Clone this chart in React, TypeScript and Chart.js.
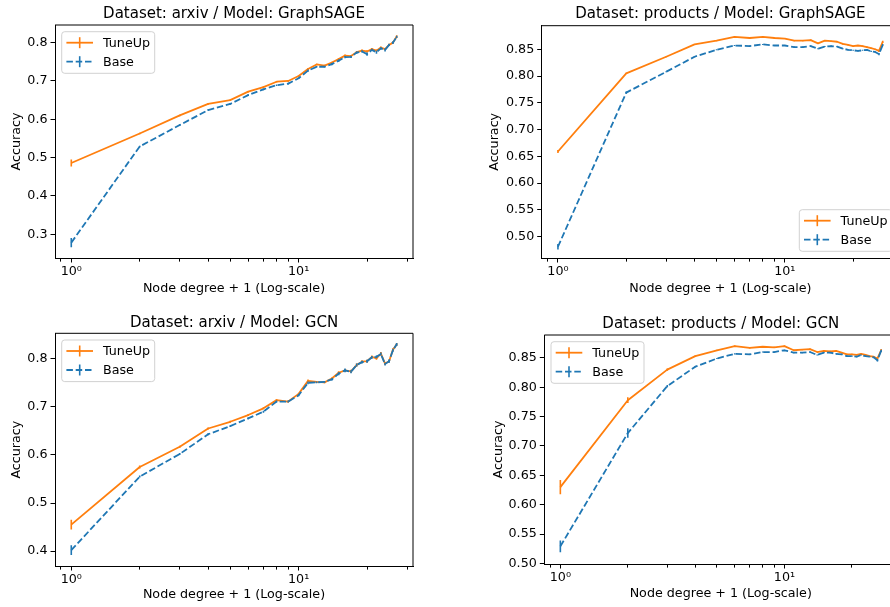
import React, { useEffect, useRef } from "react";
import { Chart, registerables } from "chart.js";

Chart.register(...registerables);

const FONT = "'DejaVu Sans', 'Liberation Sans', sans-serif";
const ORANGE = "#ff7f0e";
const BLUE = "#1f77b4";
const BASE_DASH = [6.5, 2.8];

// ---------- data ----------
const DEGREE = [1, 2, 3, 4, 5, 6, 7, 8, 9, 10, 11, 12, 13, 14, 15, 16, 17, 18, 19, 20, 21, 22, 23, 24, 25, 26, 27];
const LEGEND_LABELS = ["TuneUp", "Base"];
const X_TICKS = [0.9, 1, 2, 3, 4, 5, 6, 7, 8, 9, 10, 20, 30];
const X_TICK_LABELS: Record<number, string> = { 1: "10\u2070", 10: "10\u00b9" };
const X_MIN = 0.848;
const X_MAX = 31.85;

const ARXIV_SAGE_Y_TICKS = [0.3, 0.4, 0.5, 0.6, 0.7, 0.8];
const ARXIV_GCN_Y_TICKS = [0.4, 0.5, 0.6, 0.7, 0.8];
const PRODUCTS_Y_TICKS = [0.5, 0.55, 0.6, 0.65, 0.7, 0.75, 0.8, 0.85];

const ARXIV_SAGE_TUNEUP = [0.486, 0.563, 0.610, 0.640, 0.650, 0.672, 0.684, 0.698, 0.700, 0.713, 0.731, 0.743, 0.740, 0.748, 0.757, 0.766, 0.765, 0.775, 0.779, 0.777, 0.783, 0.779, 0.787, 0.783, 0.794, 0.800, 0.816];
const ARXIV_SAGE_BASE = [0.278, 0.529, 0.585, 0.624, 0.640, 0.663, 0.678, 0.689, 0.693, 0.707, 0.727, 0.737, 0.737, 0.744, 0.753, 0.762, 0.763, 0.774, 0.777, 0.770, 0.781, 0.775, 0.785, 0.781, 0.794, 0.800, 0.815];
const ARXIV_SAGE_TUNEUP_ERR = [0.009, 0.002, 0.002, 0.002, 0.002, 0.002, 0.002, 0.002, 0.002, 0.002, 0.003, 0.002, 0.002, 0.002, 0.003, 0.003, 0.003, 0.003, 0.003, 0.003, 0.003, 0.003, 0.003, 0.003, 0.003, 0.003, 0.003];
const ARXIV_SAGE_BASE_ERR = [0.012, 0.002, 0.002, 0.002, 0.002, 0.002, 0.002, 0.002, 0.002, 0.002, 0.003, 0.002, 0.002, 0.003, 0.003, 0.003, 0.003, 0.003, 0.003, 0.004, 0.003, 0.004, 0.003, 0.004, 0.003, 0.003, 0.003];

const PRODUCTS_SAGE_TUNEUP = [0.659, 0.805, 0.836, 0.859, 0.866, 0.873, 0.871, 0.873, 0.871, 0.870, 0.866, 0.866, 0.867, 0.861, 0.866, 0.865, 0.864, 0.860, 0.858, 0.856, 0.857, 0.856, 0.854, 0.852, 0.850, 0.847, 0.864];
const PRODUCTS_SAGE_BASE = [0.481, 0.769, 0.808, 0.836, 0.849, 0.857, 0.856, 0.859, 0.857, 0.857, 0.854, 0.854, 0.856, 0.851, 0.855, 0.856, 0.855, 0.851, 0.849, 0.848, 0.847, 0.848, 0.849, 0.846, 0.845, 0.841, 0.858];
const PRODUCTS_SAGE_TUNEUP_ERR = [0.003, 0.001, 0.001, 0.001, 0.001, 0.001, 0.001, 0.001, 0.001, 0.001, 0.001, 0.001, 0.001, 0.001, 0.001, 0.001, 0.001, 0.001, 0.001, 0.001, 0.001, 0.001, 0.001, 0.001, 0.001, 0.002, 0.002];
const PRODUCTS_SAGE_BASE_ERR = [0.005, 0.002, 0.001, 0.001, 0.001, 0.001, 0.001, 0.001, 0.001, 0.001, 0.001, 0.001, 0.001, 0.001, 0.001, 0.001, 0.001, 0.001, 0.001, 0.001, 0.001, 0.001, 0.001, 0.001, 0.001, 0.002, 0.002];

const ARXIV_GCN_TUNEUP = [0.455, 0.575, 0.617, 0.655, 0.669, 0.683, 0.697, 0.714, 0.711, 0.727, 0.754, 0.752, 0.751, 0.759, 0.771, 0.776, 0.774, 0.787, 0.794, 0.795, 0.804, 0.801, 0.811, 0.790, 0.795, 0.819, 0.830];
const ARXIV_GCN_BASE = [0.402, 0.555, 0.602, 0.643, 0.660, 0.676, 0.690, 0.711, 0.711, 0.724, 0.750, 0.751, 0.752, 0.757, 0.769, 0.776, 0.773, 0.787, 0.793, 0.795, 0.803, 0.804, 0.810, 0.789, 0.795, 0.818, 0.830];
const ARXIV_GCN_TUNEUP_ERR = [0.010, 0.003, 0.002, 0.002, 0.002, 0.002, 0.002, 0.002, 0.002, 0.002, 0.003, 0.002, 0.002, 0.002, 0.003, 0.003, 0.003, 0.003, 0.003, 0.003, 0.003, 0.003, 0.003, 0.003, 0.003, 0.003, 0.003];
const ARXIV_GCN_BASE_ERR = [0.010, 0.002, 0.002, 0.002, 0.002, 0.002, 0.002, 0.002, 0.002, 0.002, 0.003, 0.002, 0.002, 0.002, 0.003, 0.004, 0.003, 0.003, 0.003, 0.003, 0.003, 0.003, 0.003, 0.003, 0.003, 0.003, 0.003];

const PRODUCTS_GCN_TUNEUP = [0.630, 0.778, 0.830, 0.853, 0.863, 0.870, 0.867, 0.869, 0.868, 0.870, 0.863, 0.864, 0.865, 0.860, 0.862, 0.861, 0.862, 0.859, 0.856, 0.856, 0.855, 0.857, 0.855, 0.853, 0.852, 0.849, 0.863];
const PRODUCTS_GCN_BASE = [0.529, 0.722, 0.802, 0.835, 0.849, 0.857, 0.856, 0.860, 0.860, 0.863, 0.859, 0.859, 0.860, 0.855, 0.859, 0.859, 0.857, 0.856, 0.853, 0.853, 0.852, 0.855, 0.853, 0.852, 0.851, 0.846, 0.862];
const PRODUCTS_GCN_TUNEUP_ERR = [0.012, 0.005, 0.002, 0.001, 0.001, 0.001, 0.001, 0.001, 0.001, 0.001, 0.001, 0.001, 0.001, 0.001, 0.001, 0.001, 0.001, 0.001, 0.001, 0.001, 0.001, 0.001, 0.001, 0.001, 0.001, 0.002, 0.002];
const PRODUCTS_GCN_BASE_ERR = [0.010, 0.008, 0.002, 0.001, 0.001, 0.001, 0.001, 0.001, 0.001, 0.001, 0.001, 0.001, 0.001, 0.001, 0.001, 0.001, 0.001, 0.001, 0.001, 0.001, 0.001, 0.001, 0.001, 0.001, 0.001, 0.002, 0.002];

// ---------- layout ----------
type PanelCfg = {
  title: string;
  x: number; y: number; w: number; h: number;
  area: { left: number; top: number; right: number; bottom: number };
  titlePadTop: number;
  yMin: number; yMax: number; yTicks: number[]; yDec: number;
  yTitlePad: number; xTitlePad: number;
  legendAt: "tl" | "br";
  tune: number[]; base: number[]; tuneErr: number[]; baseErr: number[];
};

const PANELS: PanelCfg[] = [
  {
    title: "Dataset: arxiv / Model: GraphSAGE",
    x: 0, y: 0, w: 445, h: 300,
    area: { left: 55, top: 25, right: 413, bottom: 258 },
    titlePadTop: 5,
    yMin: 0.238, yMax: 0.846, yTicks: ARXIV_SAGE_Y_TICKS, yDec: 1,
    yTitlePad: 9.1, xTitlePad: 4.1,
    legendAt: "tl",
    tune: ARXIV_SAGE_TUNEUP, base: ARXIV_SAGE_BASE, tuneErr: ARXIV_SAGE_TUNEUP_ERR, baseErr: ARXIV_SAGE_BASE_ERR,
  },
  {
    title: "Dataset: products / Model: GraphSAGE",
    x: 445, y: 0, w: 470, h: 300,
    area: { left: 96.7, top: 25.7, right: 454, bottom: 258 },
    titlePadTop: 5,
    yMin: 0.46, yMax: 0.894, yTicks: PRODUCTS_Y_TICKS, yDec: 2,
    yTitlePad: 42.4, xTitlePad: 4.1,
    legendAt: "br",
    tune: PRODUCTS_SAGE_TUNEUP, base: PRODUCTS_SAGE_BASE, tuneErr: PRODUCTS_SAGE_TUNEUP_ERR, baseErr: PRODUCTS_SAGE_BASE_ERR,
  },
  {
    title: "Dataset: arxiv / Model: GCN",
    x: 0, y: 300, w: 445, h: 307,
    area: { left: 55, top: 33.3, right: 413, bottom: 266 },
    titlePadTop: 13.7,
    yMin: 0.369, yMax: 0.853, yTicks: ARXIV_GCN_Y_TICKS, yDec: 1,
    yTitlePad: 9.1, xTitlePad: 4.4,
    legendAt: "tl",
    tune: ARXIV_GCN_TUNEUP, base: ARXIV_GCN_BASE, tuneErr: ARXIV_GCN_TUNEUP_ERR, baseErr: ARXIV_GCN_BASE_ERR,
  },
  {
    title: "Dataset: products / Model: GCN",
    x: 445, y: 300, w: 470, h: 307,
    area: { left: 99.3, top: 35, right: 452.2, bottom: 264 },
    titlePadTop: 15,
    yMin: 0.499, yMax: 0.889, yTicks: PRODUCTS_Y_TICKS, yDec: 2,
    yTitlePad: 45.7, xTitlePad: 6.1,
    legendAt: "tl",
    tune: PRODUCTS_GCN_TUNEUP, base: PRODUCTS_GCN_BASE, tuneErr: PRODUCTS_GCN_TUNEUP_ERR, baseErr: PRODUCTS_GCN_BASE_ERR,
  },
];

const TICK_FONT = { family: FONT, size: 12.7, weight: "normal" as const };
const TITLE_SIZE = 15;

function makeDecor(p: PanelCfg) {
  return {
    id: "decor",
    afterDatasetDraw(chart: any, args: any) {
      const idx = args.index;
      const vals = idx === 0 ? p.tune : p.base;
      const errs = idx === 0 ? p.tuneErr : p.baseErr;
      const color = idx === 0 ? ORANGE : BLUE;
      const { ctx } = chart;
      const xs = chart.scales.x;
      const ys = chart.scales.y;
      ctx.save();
      ctx.strokeStyle = color;
      ctx.lineWidth = 1.6;
      ctx.beginPath();
      DEGREE.forEach((d, i) => {
        const px = xs.getPixelForValue(d);
        ctx.moveTo(px, ys.getPixelForValue(vals[i] - errs[i]));
        ctx.lineTo(px, ys.getPixelForValue(vals[i] + errs[i]));
      });
      ctx.stroke();
      ctx.restore();
    },
    afterDraw(chart: any) {
      const { ctx, chartArea: a } = chart;
      ctx.save();
      // top and right spines
      ctx.strokeStyle = "#000";
      ctx.lineWidth = 1;
      ctx.beginPath();
      ctx.moveTo(a.left, a.top);
      ctx.lineTo(a.right, a.top);
      ctx.lineTo(a.right, a.bottom);
      ctx.stroke();

      // legend
      const W = 93;
      const H = 41.6;
      const off = 6.7;
      const bx = p.legendAt === "tl" ? a.left + off : a.right - off - W;
      const by = p.legendAt === "tl" ? a.top + off : a.bottom - off - H;
      const r = 3;
      ctx.beginPath();
      ctx.moveTo(bx + r, by);
      ctx.lineTo(bx + W - r, by);
      ctx.arcTo(bx + W, by, bx + W, by + r, r);
      ctx.lineTo(bx + W, by + H - r);
      ctx.arcTo(bx + W, by + H, bx + W - r, by + H, r);
      ctx.lineTo(bx + r, by + H);
      ctx.arcTo(bx, by + H, bx, by + H - r, r);
      ctx.lineTo(bx, by + r);
      ctx.arcTo(bx, by, bx + r, by, r);
      ctx.closePath();
      ctx.fillStyle = "rgba(255,255,255,0.8)";
      ctx.fill();
      ctx.strokeStyle = "rgba(204,204,204,0.9)";
      ctx.lineWidth = 1;
      ctx.stroke();

      const colors = [ORANGE, BLUE];
      const dashes = [[], BASE_DASH];
      LEGEND_LABELS.forEach((label, i) => {
        const ry = by + 11 + i * 19;
        ctx.strokeStyle = colors[i];
        ctx.lineWidth = 1.8;
        ctx.setLineDash(dashes[i]);
        ctx.beginPath();
        ctx.moveTo(bx + 4.7, ry);
        ctx.lineTo(bx + 31.3, ry);
        ctx.stroke();
        ctx.setLineDash([]);
        ctx.lineWidth = 1.6;
        ctx.beginPath();
        ctx.moveTo(bx + 18, ry - 5.5);
        ctx.lineTo(bx + 18, ry + 5.5);
        ctx.stroke();
        ctx.fillStyle = "#000";
        ctx.font = `12.7px ${FONT}`;
        ctx.textAlign = "left";
        ctx.textBaseline = "middle";
        ctx.fillText(label, bx + 41.3, ry + 0.5);
      });
      ctx.restore();
    },
  };
}

function Panel({ p }: { p: PanelCfg }) {
  const ref = useRef<HTMLCanvasElement>(null);
  useEffect(() => {
    const canvas = ref.current!;
    const titleBottom = p.area.top - p.titlePadTop - TITLE_SIZE * 1.2;
    const chart = new Chart(canvas, {
      type: "line",
      data: {
        datasets: [
          {
            label: LEGEND_LABELS[0],
            data: DEGREE.map((d, i) => ({ x: d, y: p.tune[i] })),
            borderColor: ORANGE,
            borderWidth: 1.8,
            pointRadius: 0,
            fill: false,
            tension: 0,
            borderJoinStyle: "round",
            order: 1,
          },
          {
            label: LEGEND_LABELS[1],
            data: DEGREE.map((d, i) => ({ x: d, y: p.base[i] })),
            borderColor: BLUE,
            borderWidth: 1.8,
            borderDash: BASE_DASH,
            pointRadius: 0,
            fill: false,
            tension: 0,
            borderJoinStyle: "round",
            order: 0,
          },
        ],
      },
      options: {
        responsive: false,
        animation: false,
        devicePixelRatio: 1,
        layout: { padding: { left: 0, top: 0, right: p.w - p.area.right, bottom: 0 } },
        plugins: {
          legend: { display: false },
          tooltip: { enabled: false },
          title: {
            display: true,
            text: p.title,
            fullSize: false,
            color: "#000",
            font: { family: FONT, size: TITLE_SIZE, weight: "normal" },
            padding: { top: p.titlePadTop, bottom: titleBottom },
          },
        },
        scales: {
          x: {
            type: "logarithmic",
            min: X_MIN,
            max: X_MAX,
            afterBuildTicks: (axis: any) => {
              axis.ticks = X_TICKS.map((v) => ({ value: v, major: X_TICK_LABELS[v] !== undefined }));
            },
            afterFit: (axis: any) => {
              axis.height = p.h - p.area.bottom;
            },
            ticks: {
              autoSkip: false,
              maxRotation: 0,
              minRotation: 0,
              padding: 2,
              color: "#000",
              font: TICK_FONT,
              callback: (v: any) => X_TICK_LABELS[Number(v)] ?? "",
            },
            grid: {
              drawOnChartArea: false,
              drawTicks: true,
              tickLength: 4.5,
              tickColor: "#000",
              tickWidth: 1,
              tickBorderDash: (ctx: any) => (ctx.tick && ctx.tick.major ? [] : [2.6, 30]),
            },
            border: { display: true, color: "#000", width: 1 },
            title: {
              display: true,
              text: "Node degree + 1 (Log-scale)",
              color: "#000",
              font: TICK_FONT,
              padding: { top: 0, bottom: p.xTitlePad },
            },
          },
          y: {
            type: "linear",
            min: p.yMin,
            max: p.yMax,
            afterBuildTicks: (axis: any) => {
              axis.ticks = p.yTicks.map((v) => ({ value: v }));
            },
            afterFit: (axis: any) => {
              axis.width = p.area.left;
            },
            ticks: {
              padding: 3,
              color: "#000",
              font: TICK_FONT,
              callback: (v: any) => Number(v).toFixed(p.yDec),
            },
            grid: {
              drawOnChartArea: false,
              drawTicks: true,
              tickLength: 4.5,
              tickColor: "#000",
              tickWidth: 1,
            },
            border: { display: true, color: "#000", width: 1 },
            title: {
              display: true,
              text: "Accuracy",
              color: "#000",
              font: TICK_FONT,
              padding: { top: p.yTitlePad, bottom: 0 },
            },
          },
        },
      },
      plugins: [makeDecor(p)],
    } as any);
    return () => chart.destroy();
  }, [p]);
  return (
    <canvas
      ref={ref}
      width={p.w}
      height={p.h}
      style={{ position: "absolute", left: p.x, top: p.y, width: p.w, height: p.h }}
    />
  );
}

export default function App() {
  return (
    <div
      style={{
        position: "fixed",
        left: 0,
        top: 0,
        width: 890,
        height: 607,
        overflow: "hidden",
        background: "#fff",
      }}
    >
      {PANELS.map((p, i) => (
        <Panel key={i} p={p} />
      ))}
    </div>
  );
}
